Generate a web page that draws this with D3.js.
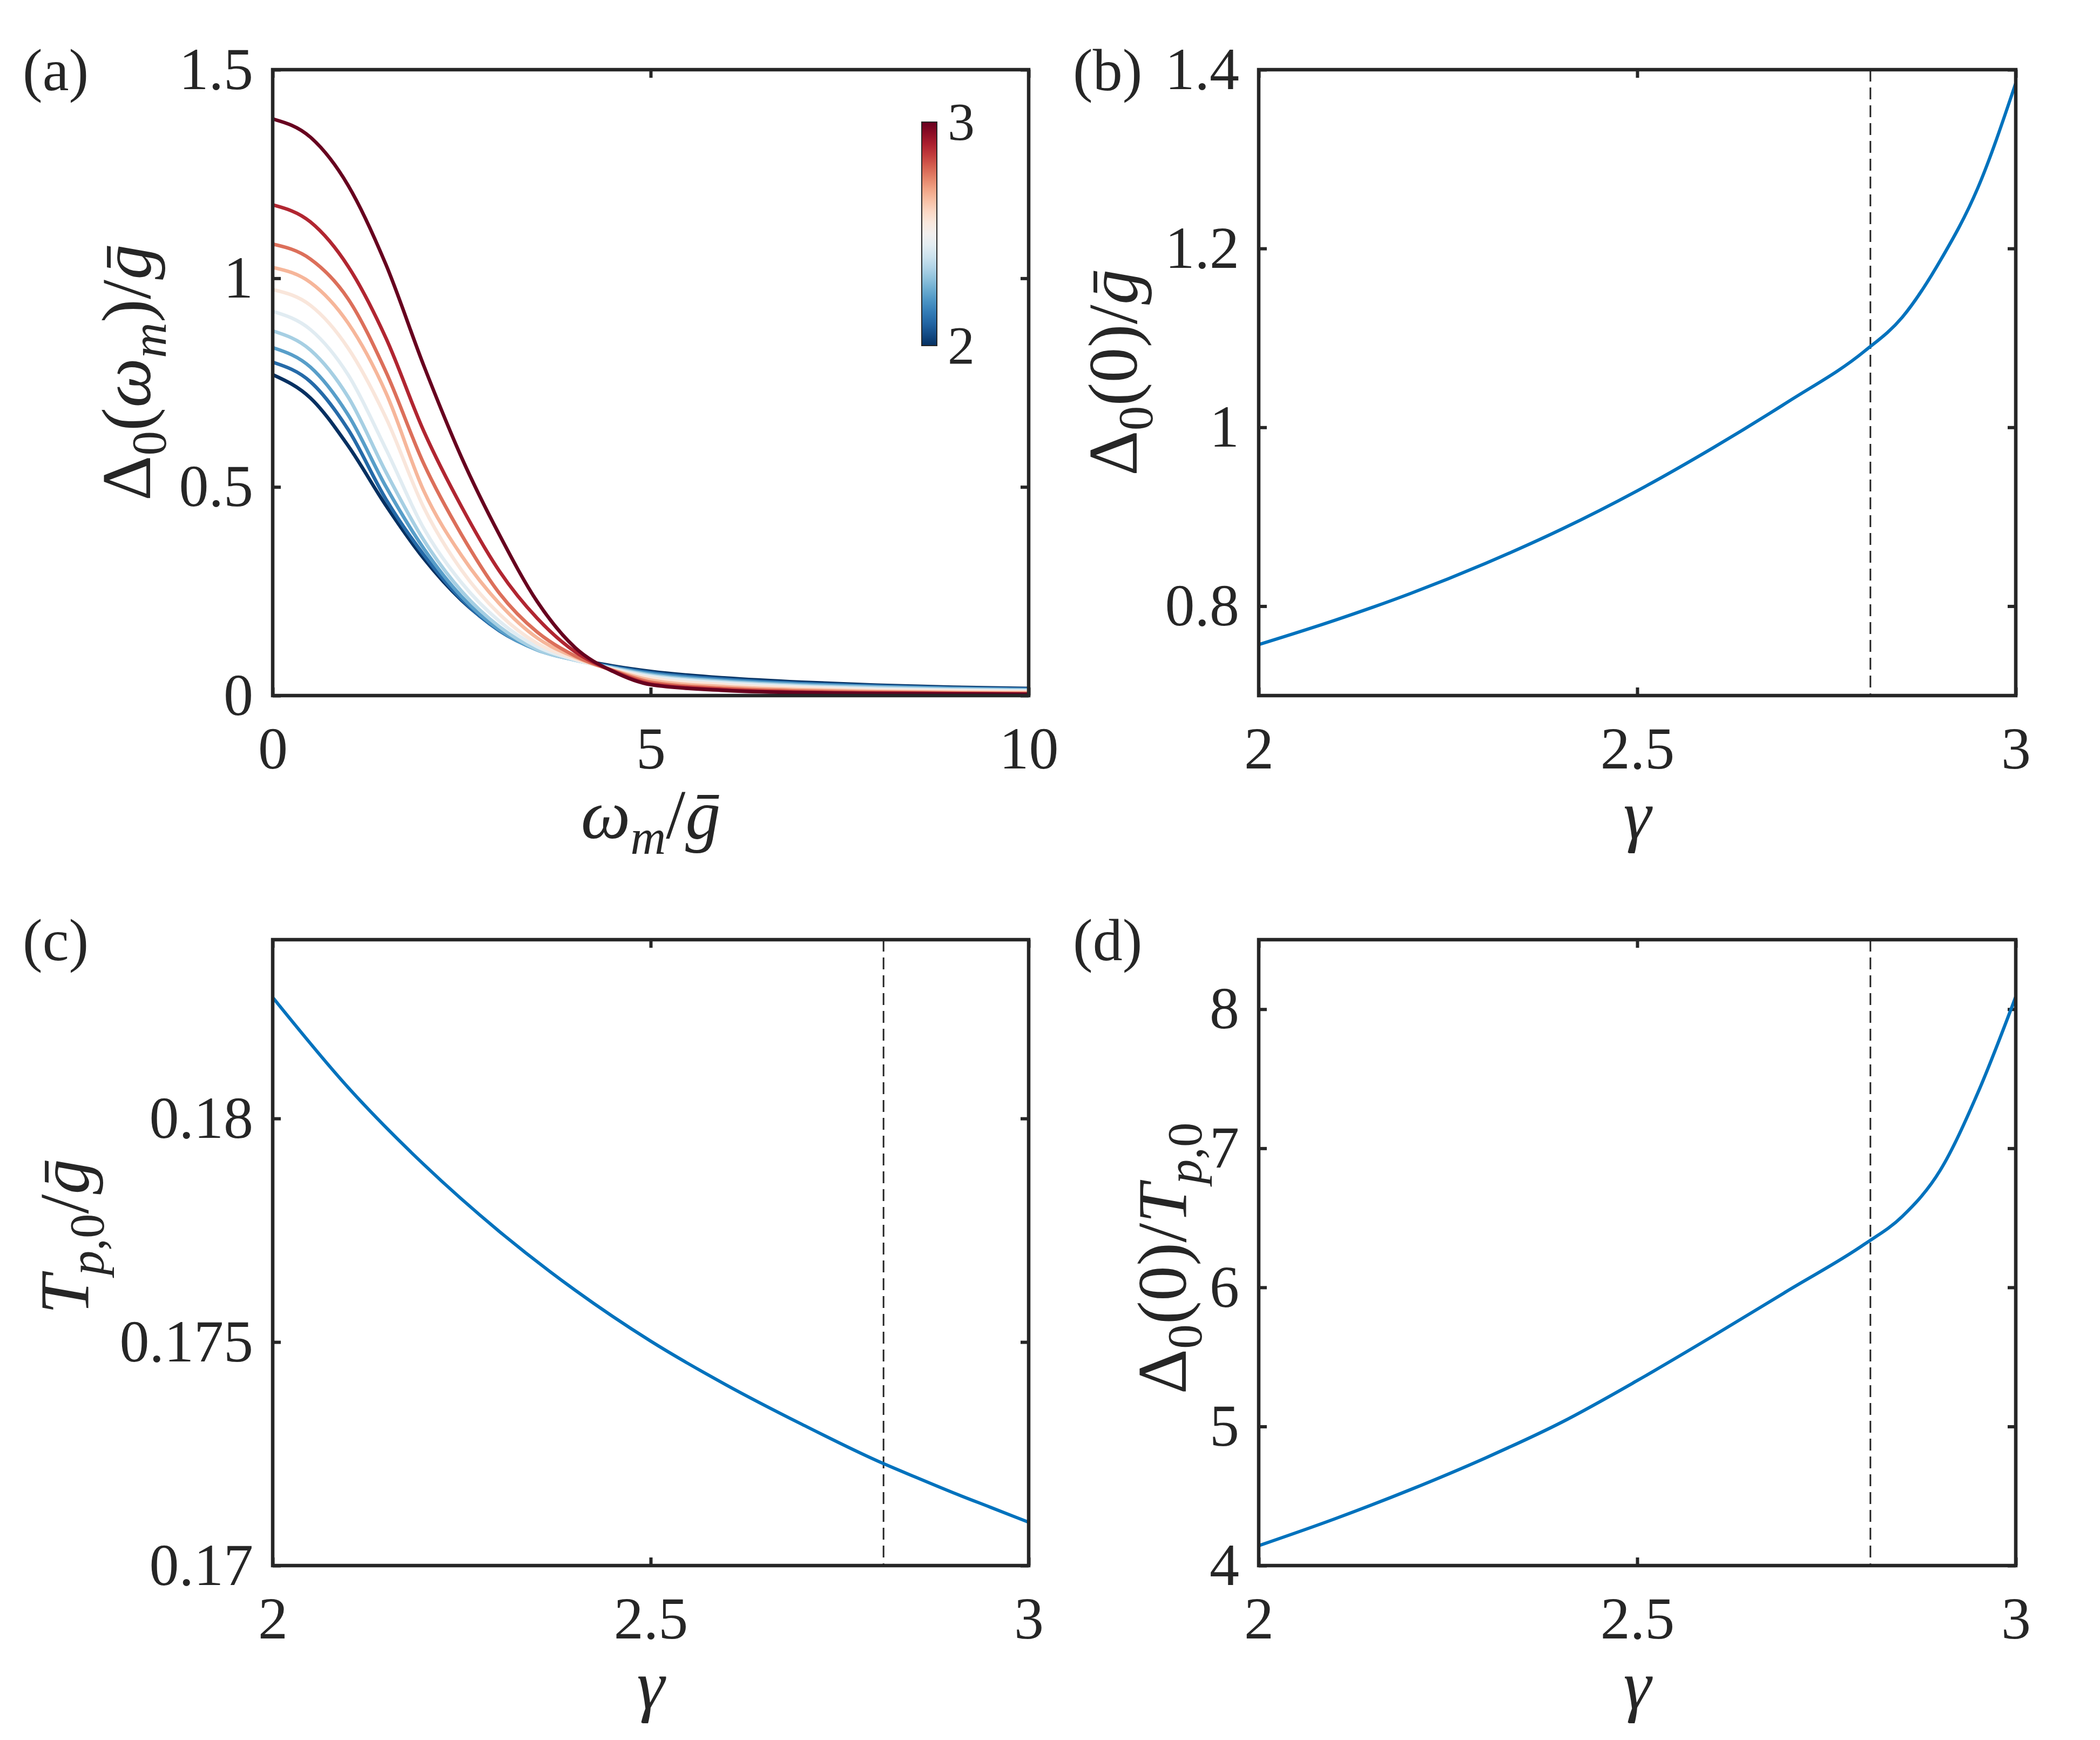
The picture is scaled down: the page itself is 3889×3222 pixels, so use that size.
<!DOCTYPE html>
<html>
<head>
<meta charset="utf-8">
<script src="https://cdn.jsdelivr.net/npm/d3@7"></script>
<style>
body { margin: 0; background: #fff; }
text { font-family: "Times New Roman", "Liberation Serif", serif; fill: #262626; }
.tick text { font-size: 110px; }
</style>
</head>
<body>
<script>
// ---- data ----
// panel (a): gap function vs Matsubara frequency, one curve per gamma (blue -> red)
var omega = [0, 0.5, 1, 1.5, 2, 2.5, 3, 3.5, 4, 4.5, 5, 6, 7, 8, 9, 10];
var gap0 = [0.769, 0.713, 0.598, 0.455, 0.328, 0.228, 0.157, 0.112, 0.088, 0.071, 0.058, 0.042, 0.032, 0.025, 0.020, 0.017];
var gap1 = [0.799, 0.752, 0.637, 0.470, 0.337, 0.230, 0.155, 0.110, 0.086, 0.069, 0.055, 0.039, 0.029, 0.023, 0.018, 0.016];
var gap2 = [0.834, 0.787, 0.672, 0.500, 0.352, 0.237, 0.157, 0.109, 0.085, 0.067, 0.052, 0.036, 0.027, 0.021, 0.017, 0.014];
var gap3 = [0.874, 0.828, 0.715, 0.535, 0.372, 0.250, 0.165, 0.110, 0.085, 0.066, 0.049, 0.033, 0.024, 0.019, 0.015, 0.013];
var gap4 = [0.921, 0.877, 0.768, 0.590, 0.400, 0.270, 0.178, 0.117, 0.086, 0.064, 0.046, 0.030, 0.021, 0.016, 0.013, 0.011];
var gap5 = [0.973, 0.935, 0.832, 0.665, 0.450, 0.300, 0.195, 0.125, 0.088, 0.062, 0.042, 0.026, 0.018, 0.013, 0.011, 0.009];
var gap6 = [1.026, 0.990, 0.892, 0.725, 0.490, 0.335, 0.220, 0.138, 0.092, 0.061, 0.037, 0.021, 0.014, 0.010, 0.008, 0.007];
var gap7 = [1.082, 1.046, 0.950, 0.775, 0.555, 0.385, 0.245, 0.152, 0.095, 0.060, 0.032, 0.017, 0.011, 0.008, 0.006, 0.005];
var gap8 = [1.176, 1.135, 1.028, 0.856, 0.633, 0.452, 0.298, 0.185, 0.105, 0.059, 0.028, 0.014, 0.008, 0.006, 0.005, 0.004];
var gap9 = [1.382, 1.338, 1.222, 1.032, 0.790, 0.570, 0.385, 0.225, 0.115, 0.058, 0.026, 0.012, 0.007, 0.005, 0.004, 0.003];
var gapCurves = [gap0, gap1, gap2, gap3, gap4, gap5, gap6, gap7, gap8, gap9];

// panels (b)-(d): vs gamma
var gammaVals = [2.0, 2.1, 2.2, 2.3, 2.4, 2.5, 2.6, 2.7, 2.8, 2.85, 2.9, 2.95, 3.0];
var delta0 = [0.757, 0.784, 0.814, 0.848, 0.886, 0.929, 0.977, 1.029, 1.085, 1.123, 1.186, 1.268, 1.385];
var tp0 = [0.18271, 0.18069, 0.17897, 0.17747, 0.17616, 0.17502, 0.17404, 0.17316, 0.17234, 0.17198, 0.17163, 0.17130, 0.17097];
var ratio = [4.143, 4.335, 4.545, 4.775, 5.030, 5.330, 5.650, 5.980, 6.310, 6.510, 6.840, 7.400, 8.090];
var gammaC = 2.808;

var svg = d3.select("body").append("svg")
    .attr("width", 3889)
    .attr("height", 3222);

var tickLen = 15;

// builds one boxed panel with inward ticks on all four sides
function makePanel(x0, x1, y0, y1, xDom, yDom, xTicks, yTicks) {
  var x = d3.scaleLinear().domain(xDom).range([x0, x1]);
  var y = d3.scaleLinear().domain(yDom).range([y1, y0]);
  var fmt = d3.format("~g");

  var g = svg.append("g");

  var ax = [
    g.append("g").attr("transform", "translate(0," + y1 + ")")
      .call(d3.axisBottom(x).tickValues(xTicks).tickSizeInner(-tickLen).tickSizeOuter(0).tickPadding(57).tickFormat(fmt)),
    g.append("g").attr("transform", "translate(0," + y0 + ")")
      .call(d3.axisTop(x).tickValues(xTicks).tickSizeInner(-tickLen).tickSizeOuter(0).tickFormat("")),
    g.append("g").attr("transform", "translate(" + x0 + ",0)")
      .call(d3.axisLeft(y).tickValues(yTicks).tickSizeInner(-tickLen).tickSizeOuter(0).tickPadding(36).tickFormat(fmt)),
    g.append("g").attr("transform", "translate(" + x1 + ",0)")
      .call(d3.axisRight(y).tickValues(yTicks).tickSizeInner(-tickLen).tickSizeOuter(0).tickFormat(""))
  ];
  ax.forEach(function(a) {
    a.select(".domain").remove();
    a.selectAll(".tick line").attr("stroke", "#262626").attr("stroke-width", 6);
    a.attr("font-family", null).attr("font-size", null);
  });

  var plot = g.append("g");

  g.append("rect")
    .attr("x", x0).attr("y", y0)
    .attr("width", x1 - x0).attr("height", y1 - y0)
    .attr("fill", "none")
    .attr("stroke", "#262626")
    .attr("stroke-width", 6.5);

  return { g: g, plot: plot, x: x, y: y, x0: x0, x1: x1, y0: y0, y1: y1 };
}

// text with italic / subscript pieces
function mathText(sel, parts, size) {
  var t = sel.append("text").attr("font-size", size);
  var shift = 0;
  parts.forEach(function(p) {
    var ts = t.append("tspan").text(p.t);
    var target = p.sub ? size * 0.22 : 0;
    if (target !== shift) { ts.attr("dy", target - shift); shift = target; }
    if (p.sub) ts.attr("font-size", size * 0.7);
    if (p.it) ts.attr("font-style", "italic");
  });
  return t;
}

var labelSize = 130;

function xLabel(p, parts, baseY) {
  mathText(p.g, parts, labelSize)
    .attr("x", (p.x0 + p.x1) / 2)
    .attr("y", baseY)
    .attr("text-anchor", "middle");
}

function yLabel(p, parts, cx, cy) {
  mathText(p.g, parts, labelSize)
    .attr("transform", "translate(" + cx + "," + cy + ") rotate(-90)")
    .attr("dy", labelSize * 0.28)
    .attr("text-anchor", "middle");
}

function panelTag(txt, x, y) {
  svg.append("text").attr("x", x).attr("y", y)
    .attr("font-size", 110)
    .text(txt);
}

var gBar = { t: "\u1E21", it: 1 };
var gammaLabel = [{ t: "γ", it: 1 }];

// layout
var L0 = 505, L1 = 1905, R0 = 2331, R1 = 3733;
var T0 = 129, T1 = 1288, B0 = 1740, B1 = 2899;

// ---- (a) ----
var pa = makePanel(L0, L1, T0, T1, [0, 10], [0, 1.5], [0, 5, 10], [0, 0.5, 1, 1.5]);
var lineA = d3.line()
  .x(function(d, i) { return pa.x(omega[i]); })
  .y(function(d) { return pa.y(d); })
  .curve(d3.curveMonotoneX);

pa.plot.selectAll("path.gap")
  .data(gapCurves)
  .enter().append("path")
  .attr("class", "gap")
  .attr("d", lineA)
  .attr("fill", "none")
  .attr("stroke-width", 6.5)
  .attr("stroke", function(d, i) { return d3.interpolateRdBu(1 - i / (gapCurves.length - 1)); });

// colorbar
var cbX = 1707, cbW = 28, cbTop = 226, cbBot = 640;
var grad = svg.append("defs").append("linearGradient")
  .attr("id", "rdbu")
  .attr("x1", 0).attr("y1", 0).attr("x2", 0).attr("y2", 1);
d3.range(0, 1.0001, 0.05).forEach(function(t) {
  grad.append("stop").attr("offset", t).attr("stop-color", d3.interpolateRdBu(t));
});
pa.g.append("rect")
  .attr("x", cbX).attr("y", cbTop)
  .attr("width", cbW).attr("height", cbBot - cbTop)
  .attr("fill", "url(#rdbu)")
  .attr("stroke", "#262626").attr("stroke-width", 2);
var cbScale = d3.scaleLinear().domain([2, 3]).range([cbBot, cbTop]);
var cbAxis = pa.g.append("g")
  .attr("transform", "translate(" + (cbX + cbW) + ",0)")
  .call(d3.axisRight(cbScale).tickValues([2, 3]).tickSize(0).tickPadding(20).tickFormat(d3.format("~g")));
cbAxis.select(".domain").remove();
cbAxis.attr("font-family", null).attr("font-size", null);
cbAxis.selectAll("text").style("font-size", "100px");

xLabel(pa, [{ t: "ω", it: 1 }, { t: "m", it: 1, sub: 1 }, { t: "/" }, gBar], 1552);
yLabel(pa, [{ t: "Δ" }, { t: "0", sub: 1 }, { t: "(" }, { t: "ω", it: 1 }, { t: "m", it: 1, sub: 1 }, { t: ")/" }, gBar], 242, 690);
panelTag("(a)", 42, 167);

// shared drawing for the gamma panels
function gammaPanel(p, vals) {
  p.plot.append("line")
    .attr("x1", p.x(gammaC)).attr("x2", p.x(gammaC))
    .attr("y1", p.y0).attr("y2", p.y1)
    .attr("stroke", "#262626")
    .attr("stroke-width", 3)
    .attr("stroke-dasharray", "22,11");
  p.plot.append("path")
    .datum(vals)
    .attr("d", d3.line()
      .x(function(d, i) { return p.x(gammaVals[i]); })
      .y(function(d) { return p.y(d); })
      .curve(d3.curveMonotoneX))
    .attr("fill", "none")
    .attr("stroke", "#0072BD")
    .attr("stroke-width", 6);
}

// ---- (b) ----
var pb = makePanel(R0, R1, T0, T1, [2, 3], [0.7, 1.4], [2, 2.5, 3], [0.8, 1, 1.2, 1.4]);
gammaPanel(pb, delta0);
xLabel(pb, gammaLabel, 1552);
yLabel(pb, [{ t: "Δ" }, { t: "0", sub: 1 }, { t: "(0)/" }, gBar], 2069, 690);
panelTag("(b)", 1987, 167);

// ---- (c) ----
var pc = makePanel(L0, L1, B0, B1, [2, 3], [0.17, 0.184], [2, 2.5, 3], [0.17, 0.175, 0.18]);
gammaPanel(pc, tp0);
xLabel(pc, gammaLabel, 3163);
yLabel(pc, [{ t: "T", it: 1 }, { t: "p", it: 1, sub: 1 }, { t: ",0", sub: 1 }, { t: "/" }, gBar], 127, 2290);
panelTag("(c)", 42, 1778);

// ---- (d) ----
var pd = makePanel(R0, R1, B0, B1, [2, 3], [4, 8.5], [2, 2.5, 3], [4, 5, 6, 7, 8]);
gammaPanel(pd, ratio);
xLabel(pd, gammaLabel, 3163);
yLabel(pd, [{ t: "Δ" }, { t: "0", sub: 1 }, { t: "(0)/" }, { t: "T", it: 1 }, { t: "p", it: 1, sub: 1 }, { t: ",0", sub: 1 }], 2160, 2330);
panelTag("(d)", 1987, 1778);
</script>
</body>
</html>
